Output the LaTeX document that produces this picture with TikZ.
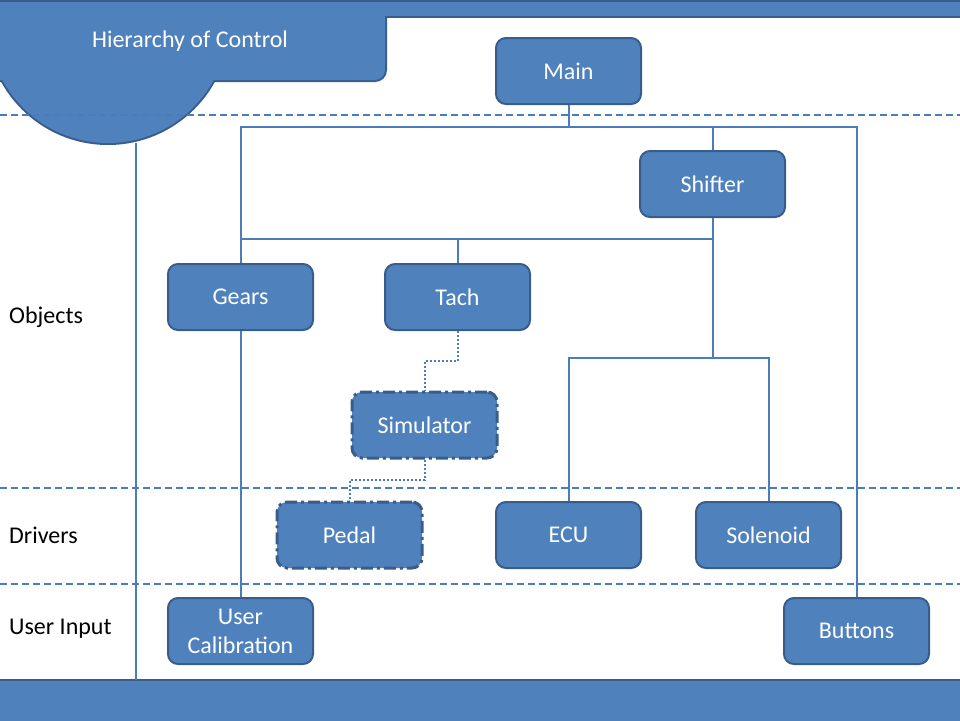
\documentclass[tikz,border=0pt]{standalone}
\usepackage{fontspec}
\setmainfont{Carlito}
\definecolor{boxfill}{RGB}{79,129,189}
\definecolor{boxline}{RGB}{56,93,138}
\definecolor{linecol}{RGB}{74,126,187}
\begin{document}
\begin{tikzpicture}[x=1pt,y=-1pt,
  box/.style={draw=boxline, fill=boxfill, line width=2pt, rounded corners=10pt,
    minimum width=145pt, minimum height=66pt, text=white,
    font=\fontsize{24}{29}\selectfont, align=center, inner sep=0pt},
  dbox/.style={box, line width=3pt, dash pattern=on 12pt off 4pt on 3pt off 4pt},
  conn/.style={draw=linecol, line width=2pt},
  dconn/.style={draw=linecol, line width=2pt, dash pattern=on 2pt off 2pt},
  sep/.style={draw=linecol, line width=2pt, dash pattern=on 7pt off 4pt},
  lbl/.style={anchor=west, font=\fontsize{24}{29}\selectfont, text=black, inner sep=0pt}]
\useasboundingbox (0,0) rectangle (960,720);
% banner
\begin{scope}
  \clip (0,0) rectangle (960,720);
  \path[draw=boxline, line width=4pt] (108,23) circle[radius=120pt];
  \path[draw=boxline, line width=4pt, rounded corners=10pt] (-10,1) rectangle (385,80);
  \path[draw=boxline, line width=4pt] (-10,1) rectangle (970,16);
  \path[fill=boxfill] (108,23) circle[radius=120pt];
  \path[fill=boxfill, rounded corners=10pt] (-10,1) rectangle (385,80);
  \path[fill=boxfill] (-10,1) rectangle (970,16);
  \path[draw=boxline, line width=3pt] (-10,0.5) -- (970,0.5);
  \path[fill=boxfill, draw=boxline, line width=2pt] (-10,680) rectangle (970,730);
\end{scope}
\node[text=white, font=\fontsize{24}{29}\selectfont] (title) at (190,41) {Hierarchy of Control};
% separators
\draw[sep] (0,115) -- (960,115);
\draw[sep] (0,488) -- (960,488);
\draw[sep] (0,584) -- (960,584);
% left labels
\node[lbl] (lobj) at (9,317) {Objects};
\node[lbl] (ldrv) at (9,535) {Drivers};
\node[lbl] (lui) at (9,629) {User Input};
% left vertical line
\coordinate (vtop) at (136,143);
\coordinate (vbot) at (136,680);
\draw[conn] (vtop) -- (vbot);
% boxes
\node[box] (main) at (568.5,71) {Main};
\node[box] (shifter) at (712.5,184) {Shifter};
\node[box] (gears) at (240.5,297) {Gears};
\node[box] (tach) at (457.5,297) {Tach};
\node[dbox] (sim) at (424.5,425) {Simulator};
\node[dbox] (pedal) at (349.5,535) {Pedal};
\node[box] (ecu) at (568.5,535) {ECU};
\node[box] (solenoid) at (768.5,535) {Solenoid};
\node[box] (usercal) at (240.5,631) {User\\Calibration};
\node[box] (buttons) at (856.5,631) {Buttons};
% connectors
\coordinate (b1) at (0,127);
\coordinate (b3) at (0,239);
\coordinate (b4) at (0,358);
\coordinate (d1) at (0,361);
\coordinate (d2) at (0,480);
\draw[conn] (main.south) -- (main.south |- b1);
\draw[conn] (gears.north) -- (gears.north |- b1) -- (buttons.north |- b1) -- (buttons.north);
\draw[conn] (shifter.north) -- (shifter.north |- b1);
\draw[conn] (gears.north |- b3) -- (shifter.south |- b3);
\draw[conn] (shifter.south) -- (shifter.south |- b4);
\draw[conn] (tach.north) -- (tach.north |- b3);
\draw[conn] (ecu.north) -- (ecu.north |- b4) -- (solenoid.north |- b4) -- (solenoid.north);
\draw[conn] (gears.south) -- (usercal.north);
\draw[dconn] (tach.south) -- (tach.south |- d1) -| (sim.north);
\draw[dconn] (sim.south) -- (sim.south |- d2) -| (pedal.north);
\end{tikzpicture}
\end{document}
